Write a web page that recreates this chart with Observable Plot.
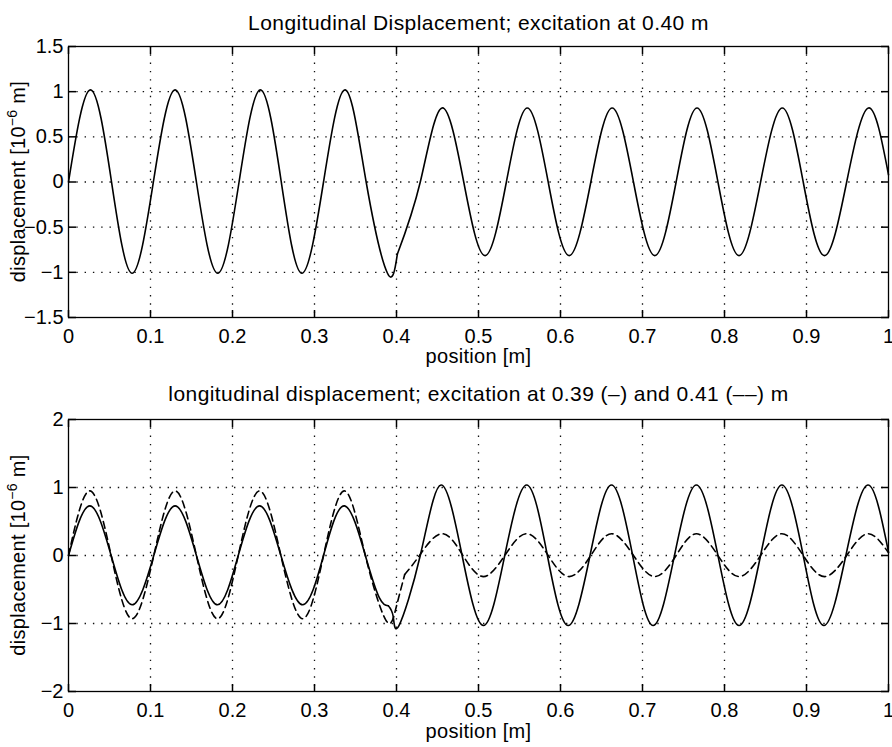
<!DOCTYPE html>
<html><head><meta charset="utf-8">
<script src="https://cdn.jsdelivr.net/npm/d3@7"></script>
<script src="https://cdn.jsdelivr.net/npm/@observablehq/plot@0.6"></script>
<style>
body{margin:0;background:#fff;}
#chart{width:892px;height:747px;background:#fff;}
#chart svg{display:block;}
</style></head><body><div id="chart"></div>
<script>
// ---------- tick values and labels ----------
const xTicks = [0, 0.1, 0.2, 0.3, 0.4, 0.5, 0.6, 0.7, 0.8, 0.9, 1];
const xTickLabels = ["0", "0.1", "0.2", "0.3", "0.4", "0.5", "0.6", "0.7", "0.8", "0.9", "1"];
const topYTicks = [-1.5, -1, -0.5, 0, 0.5, 1, 1.5];
const topYTickLabels = ["\u22121.5", "\u22121", "\u22120.5", "0", "0.5", "1", "1.5"];
const botYTicks = [-2, -1, 0, 1, 2];
const botYTickLabels = ["\u22122", "\u22121", "0", "1", "2"];

// ---------- text ----------
const topTitle = "Longitudinal Displacement; excitation at 0.40 m";
const botTitle = "longitudinal displacement; excitation at 0.39 (\u2013) and 0.41 (\u2013\u2013) m";
const xLabel = "position [m]";
const yLabelParts = ["displacement [10", "\u22126", " m]"];

// ---------- top panel: excitation at 0.40 m ----------
const topLeftX = [0, 0.0268, 0.0525, 0.0776, 0.1035, 0.130, 0.156, 0.182, 0.208, 0.234, 0.2595, 0.2846, 0.311, 0.3374, 0.363, 0.389, 0.401];
const topLeftY = [0, 1.02, 0, -1.01, 0, 1.02, 0, -1.01, 0, 1.02, 0, -1.01, 0, 1.02, 0, -1.01, -0.80];
const topRightX = [0.401, 0.429, 0.4555, 0.482, 0.508, 0.534, 0.5595, 0.585, 0.6106, 0.637, 0.663, 0.689, 0.715, 0.741, 0.7665, 0.792, 0.8177, 0.844, 0.8705, 0.896, 0.922, 0.949, 0.9757, 1.0];
const topRightY = [-0.80, 0, 0.82, 0, -0.815, 0, 0.82, 0, -0.815, 0, 0.82, 0, -0.815, 0, 0.82, 0, -0.815, 0, 0.82, 0, -0.815, 0, 0.82, 0.08];

// ---------- bottom panel: excitation at 0.39 m (solid) ----------
const solidLeftX = [0, 0.026, 0.052, 0.0776, 0.104, 0.130, 0.156, 0.1817, 0.207, 0.233, 0.259, 0.2856, 0.311, 0.3366, 0.362, 0.379, 0.390];
const solidLeftY = [0, 0.73, 0, -0.725, 0, 0.73, 0, -0.725, 0, 0.73, 0, -0.725, 0, 0.73, 0, -0.62, -0.74];
const solidRightX = [0.390, 0.396, 0.403, 0.429, 0.4543, 0.480, 0.506, 0.532, 0.5587, 0.584, 0.6094, 0.636, 0.6622, 0.688, 0.713, 0.739, 0.7657, 0.792, 0.8177, 0.844, 0.870, 0.896, 0.9212, 0.948, 0.9748, 1.0];
const solidRightY = [-0.74, -0.90, -1.03, 0, 1.036, 0, -1.03, 0, 1.036, 0, -1.03, 0, 1.036, 0, -1.03, 0, 1.036, 0, -1.03, 0, 1.036, 0, -1.03, 0, 1.036, 0.05];

// ---------- bottom panel: excitation at 0.41 m (dashed) ----------
const dashLeftX = [0, 0.026, 0.052, 0.0776, 0.104, 0.130, 0.156, 0.1817, 0.207, 0.233, 0.259, 0.2856, 0.311, 0.3366, 0.362, 0.387, 0.399, 0.410];
const dashLeftY = [0, 0.95, 0, -0.93, 0, 0.95, 0, -0.93, 0, 0.95, 0, -0.93, 0, 0.95, 0, -0.95, -0.79, -0.28];
const dashRightX = [0.410, 0.428, 0.455, 0.481, 0.506, 0.532, 0.5587, 0.585, 0.6106, 0.637, 0.6622, 0.689, 0.715, 0.741, 0.7657, 0.792, 0.8177, 0.844, 0.870, 0.896, 0.922, 0.949, 0.9748, 1.0];
const dashRightY = [-0.28, 0, 0.32, 0, -0.31, 0, 0.32, 0, -0.31, 0, 0.32, 0, -0.31, 0, 0.32, 0, -0.31, 0, 0.32, 0, -0.31, 0, 0.32, 0.04];

const FONT = "'Liberation Sans', Arial, Helvetica, sans-serif";
const rows = (xs, ys, seg) => xs.map((x, i) => ({x, y: ys[i], seg}));

function panel({height, marginTop, marginBottom, yDomain, yTicks, yTickLabels, title, titleDy, xlabelDy, lines}) {
  const fx = d => xTickLabels[xTicks.indexOf(d)];
  const fy = d => yTickLabels[yTicks.indexOf(d)];
  const blank = () => "";
  const svg = Plot.plot({
    width: 892, height, marginLeft: 68, marginRight: 4, marginTop, marginBottom,
    style: {fontFamily: FONT, fontSize: "20px", color: "#000", background: "#fff", overflow: "visible"},
    x: {domain: [0, 1]},
    y: {domain: yDomain},
    marks: [
      Plot.ruleX(xTicks.slice(1, -1), {stroke: "#111", strokeWidth: 1.3, strokeDasharray: "1.4,6.9"}),
      Plot.ruleY(yTicks.slice(1, -1), {stroke: "#111", strokeWidth: 1.3, strokeDasharray: "1.4,6.9"}),
      ...lines,
      Plot.frame({stroke: "#000", strokeWidth: 1.3}),
      Plot.axisX(xTicks, {anchor: "bottom", tickSize: -7, tickFormat: blank, label: null, strokeWidth: 1.5}),
      Plot.axisX(xTicks, {anchor: "top", tickSize: -7, tickFormat: blank, label: null, strokeWidth: 1.5}),
      Plot.axisY(yTicks, {anchor: "left", tickSize: -8, tickFormat: blank, label: null, strokeWidth: 1.5}),
      Plot.axisY(yTicks, {anchor: "right", tickSize: -8, tickFormat: blank, label: null, strokeWidth: 1.5}),
      Plot.axisX(xTicks, {anchor: "bottom", tickSize: 0, tickPadding: 11, tickFormat: fx, label: null, fontSize: 20}),
      Plot.axisY(yTicks, {anchor: "left", tickSize: 0, tickPadding: 5, tickFormat: fy, label: null, fontSize: 20}),
      Plot.text([title], {frameAnchor: "top", lineAnchor: "bottom", dy: titleDy, fontSize: 21, fill: "#000"}),
      Plot.text([xLabel], {frameAnchor: "bottom", lineAnchor: "bottom", dy: xlabelDy, fontSize: 20, fill: "#000"})
    ]
  });
  // slightly wider letter spacing on title and x label, as in the reference
  d3.select(svg).selectAll("text")
    .filter(function () { return this.textContent === title; })
    .attr("letter-spacing", "0.44px");
  d3.select(svg).selectAll("text")
    .filter(function () { return this.textContent === xLabel; })
    .attr("letter-spacing", "0.3px");
  // rotated y label with a superscript exponent
  const cy = marginTop + (height - marginTop - marginBottom) / 2;
  const t = d3.select(svg).append("text")
    .attr("transform", `translate(25,${cy}) rotate(-90)`)
    .attr("text-anchor", "middle")
    .attr("font-family", FONT)
    .attr("font-size", 20)
    .attr("letter-spacing", "0.3px")
    .attr("fill", "#000");
  t.append("tspan").text(yLabelParts[0]);
  t.append("tspan").attr("dy", -8).attr("font-size", 14).text(yLabelParts[1]);
  t.append("tspan").attr("dy", 8).text(yLabelParts[2]);
  return svg;
}

const solid = {x: "x", y: "y", z: "seg", curve: "natural", stroke: "#000", strokeWidth: 1.6, fill: "none"};

const topPanel = panel({
  height: 370, marginTop: 46, marginBottom: 53,
  yDomain: [-1.5, 1.5], yTicks: topYTicks, yTickLabels: topYTickLabels,
  title: topTitle, titleDy: -17, xlabelDy: 45,
  lines: [
    Plot.line([...rows(topLeftX, topLeftY, "a"), ...rows(topRightX, topRightY, "b")], solid)
  ]
});

const bottomPanel = panel({
  height: 377, marginTop: 49, marginBottom: 56,
  yDomain: [-2, 2], yTicks: botYTicks, yTickLabels: botYTickLabels,
  title: botTitle, titleDy: -19, xlabelDy: 46,
  lines: [
    Plot.line([...rows(dashLeftX, dashLeftY, "a"), ...rows(dashRightX, dashRightY, "b")], {...solid, strokeDasharray: "7,4.5"}),
    Plot.line([...rows(solidLeftX, solidLeftY, "a"), ...rows(solidRightX, solidRightY, "b")], solid)
  ]
});

document.getElementById("chart").append(topPanel, bottomPanel);
</script>
</body></html>
